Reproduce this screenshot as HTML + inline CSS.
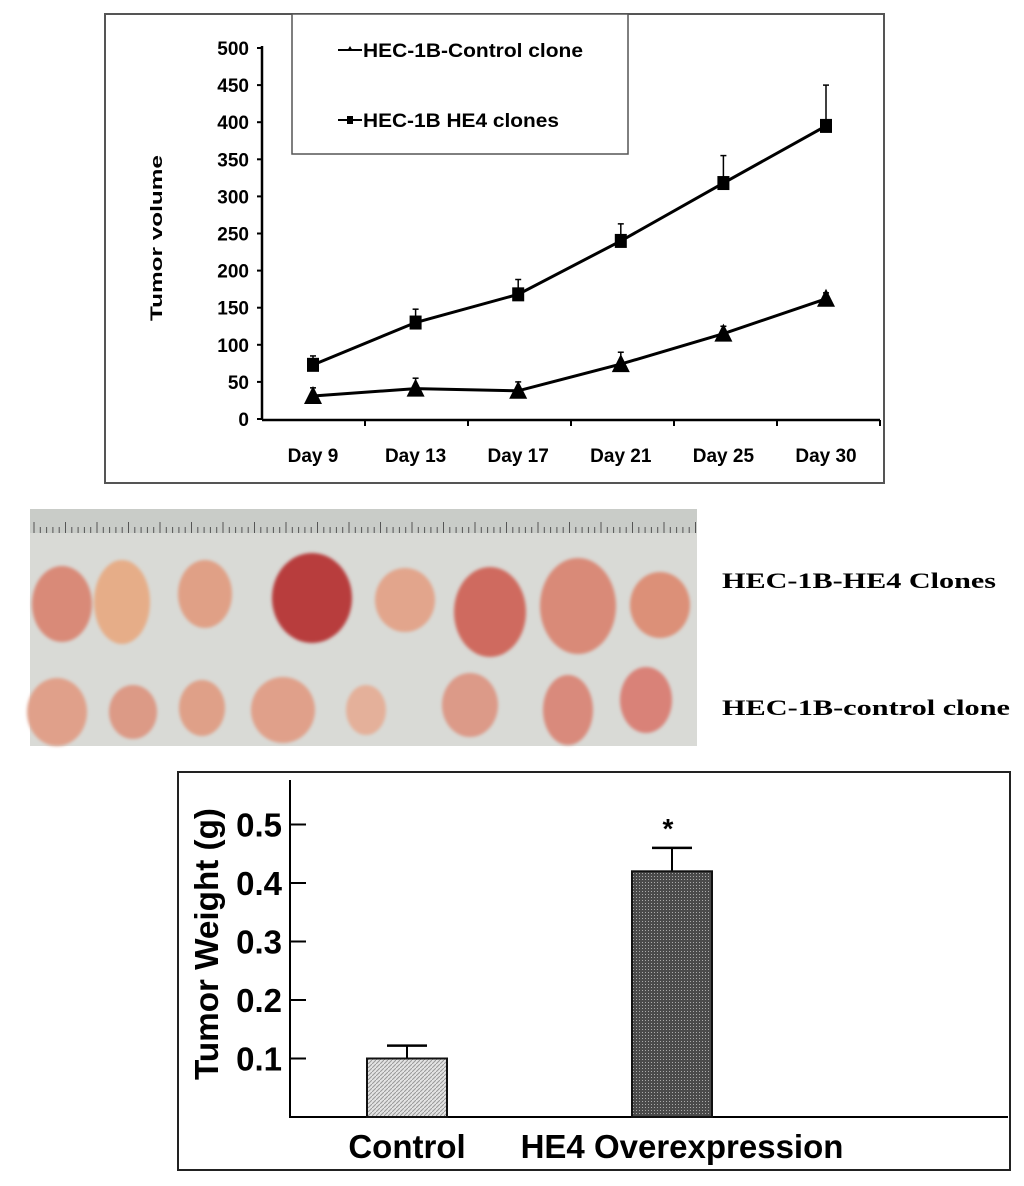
<!DOCTYPE html>
<html><head><meta charset="utf-8"><style>
body{margin:0;background:#fff;width:1024px;height:1186px;overflow:hidden;position:relative;font-family:"Liberation Sans",sans-serif}
svg{position:absolute;left:0;top:0}
</style></head><body>
<svg width="1024" height="1186">
<defs>
<pattern id="hatchL" width="4" height="4" patternUnits="userSpaceOnUse"><rect width="4" height="4" fill="#e4e4e4"/><path d="M0,4 L4,0" stroke="#999" stroke-width="1"/></pattern>
<pattern id="hatchD" width="3" height="3" patternUnits="userSpaceOnUse"><rect width="3" height="3" fill="#4a4a4a"/><rect width="1" height="1" fill="#aaa"/></pattern>
<filter id="blur"><feGaussianBlur stdDeviation="1.5"/></filter>
</defs>
<g id="top">
<rect x="105" y="14" width="779" height="469" fill="#fff" stroke="#555" stroke-width="2"/>
<rect x="292" y="14" width="336" height="140" fill="#fff" stroke="#555" stroke-width="1.5"/>
<g><line x1="338" y1="50" x2="362" y2="50" stroke="#000" stroke-width="2"/><polygon points="350,46 347,51 353,51" fill="#000"/><text x="363" y="57" font-size="19" font-weight="bold" textLength="220" lengthAdjust="spacingAndGlyphs">HEC-1B-Control clone</text></g>
<g><line x1="338" y1="120" x2="362" y2="120" stroke="#000" stroke-width="2"/><rect x="347" y="116" width="6" height="8"/><text x="363" y="127" font-size="19" font-weight="bold" textLength="196" lengthAdjust="spacingAndGlyphs">HEC-1B HE4 clones</text></g>
<text transform="translate(162,238) rotate(-90)" text-anchor="middle" font-size="17" font-weight="bold" textLength="166" lengthAdjust="spacingAndGlyphs">Tumor volume</text>
<g id="topAxes"></g><g id="topMarks"></g>
</g>
<g>
<rect x="30" y="509" width="667" height="237" fill="#d9dad6"/>
<rect x="30" y="509" width="667" height="24" fill="#c9ccc8"/>
<g id="ruler" stroke="#555" stroke-width="1"></g>
<g filter="url(#blur)">
<ellipse cx="62" cy="604" rx="30" ry="38" fill="#d98a78"/><ellipse cx="122" cy="602" rx="28" ry="42" fill="#e6ad88"/><ellipse cx="205" cy="594" rx="27" ry="34" fill="#e0a086"/>
<ellipse cx="312" cy="598" rx="40" ry="45" fill="#b83c3c"/><ellipse cx="405" cy="600" rx="30" ry="32" fill="#e2a58c"/><ellipse cx="490" cy="612" rx="36" ry="45" fill="#cf6a5e"/>
<ellipse cx="578" cy="606" rx="38" ry="48" fill="#d98a78"/><ellipse cx="660" cy="605" rx="30" ry="33" fill="#dc9078"/>
<ellipse cx="57" cy="712" rx="30" ry="34" fill="#e0a08a"/><ellipse cx="133" cy="712" rx="24" ry="27" fill="#dc9a86"/><ellipse cx="202" cy="708" rx="23" ry="28" fill="#dfa088"/>
<ellipse cx="283" cy="710" rx="32" ry="33" fill="#e0a08a"/><ellipse cx="366" cy="710" rx="20" ry="25" fill="#e4b09a"/><ellipse cx="470" cy="705" rx="28" ry="32" fill="#dc9a88"/>
<ellipse cx="568" cy="710" rx="25" ry="35" fill="#d98a7c"/><ellipse cx="646" cy="700" rx="26" ry="33" fill="#d98278"/>
</g></g>
<text x="722" y="588" font-family="Liberation Serif,serif" font-size="22" font-weight="bold" textLength="274" lengthAdjust="spacingAndGlyphs">HEC-1B-HE4 Clones</text>
<text x="722" y="715" font-family="Liberation Serif,serif" font-size="22" font-weight="bold" textLength="288" lengthAdjust="spacingAndGlyphs">HEC-1B-control clone</text>
<g>
<rect x="178" y="772" width="832" height="398" fill="#fff" stroke="#222" stroke-width="2"/>
<text transform="translate(218,944) rotate(-90)" text-anchor="middle" font-size="33" font-weight="bold" textLength="272" lengthAdjust="spacingAndGlyphs">Tumor Weight (g)</text>
<g id="botAxes"></g><g id="botMarks"></g>
</g>
</svg>
<script>
const days=["Day 9","Day 13","Day 17","Day 21","Day 25","Day 30"];
const he4Vol=[73,130,168,240,318,395];
const he4Err=[12,18,20,23,37,55];
const ctrlVol=[31,41,38,74,115,162];
const ctrlErr=[11,14,12,16,10,8];
const volTicks=[0,50,100,150,200,250,300,350,400,450,500];
const groups=["Control","HE4 Overexpression"];
const weights=[0.1,0.42];
const weightErr=[0.022,0.04];
const wTicks=[0.1,0.2,0.3,0.4,0.5];
const NS="http://www.w3.org/2000/svg";
function mk(p,t,a,txt){const e=document.createElementNS(NS,t);for(const k in a)e.setAttribute(k,a[k]);if(txt!==undefined)e.textContent=txt;p.appendChild(e);return e;}
const ty=v=>419-v*(371/500), tx=i=>313+i*102.6;
const ta=document.getElementById('topAxes'), tm=document.getElementById('topMarks');
let e=mk(ta,'line',{x1:262,y1:46,x2:262,y2:420,stroke:'#000','stroke-width':2.5});


e=mk(ta,'line',{x1:262,y1:420,x2:880,y2:420,stroke:'#000','stroke-width':2.5});


volTicks.forEach(v=>{mk(ta,'line',{x1:257,y1:ty(v),x2:262,y2:ty(v),stroke:'#000','stroke-width':2});
e=mk(ta,'text',{x:249,y:ty(v)+7,'text-anchor':'end','font-size':19,'font-weight':'bold'},v);

});
days.forEach((d,i)=>{const bx=262+(i+1)*103;mk(ta,'line',{x1:bx,y1:420,x2:bx,y2:426,stroke:'#000','stroke-width':2});
e=mk(ta,'text',{x:tx(i),y:462,'text-anchor':'middle','font-size':19,'font-weight':'bold'},d);

});
function series(vals,errs,shape,name){
 const pts=vals.map((v,i)=>tx(i)+','+ty(v)).join(' ');
 e=mk(tm,'polyline',{points:pts,fill:'none',stroke:'#000','stroke-width':3});
 
 
 vals.forEach((v,i)=>{const x=tx(i),y=ty(v),ye=ty(v+errs[i]);
  mk(tm,'line',{x1:x,y1:y,x2:x,y2:ye,stroke:'#000','stroke-width':1.5});
  mk(tm,'line',{x1:x-3,y1:ye,x2:x+3,y2:ye,stroke:'#000','stroke-width':1.5});
  if(shape==='sq'){e=mk(tm,'rect',{x:x-6,y:y-7,width:12,height:14,fill:'#000'});}
  else{e=mk(tm,'polygon',{points:`${x},${y-10} ${x-9},${y+8} ${x+9},${y+8}`,fill:'#000'});}
  
  });
}
series(he4Vol,he4Err,'sq','he4');
series(ctrlVol,ctrlErr,'tri','control');
const r=document.getElementById('ruler');
for(let x=34;x<697;x+=6.3){mk(r,'line',{x1:x,y1:533,x2:x,y2:(Math.round((x-34)/6.3)%5==0)?522:527});}
const by=v=>1117-v*585, bx=i=>[407,672][i];
const ba=document.getElementById('botAxes'), bm=document.getElementById('botMarks');
e=mk(ba,'line',{x1:290,y1:780,x2:290,y2:1118,stroke:'#000','stroke-width':2});


e=mk(ba,'line',{x1:290,y1:1117,x2:1008,y2:1117,stroke:'#000','stroke-width':2});


wTicks.forEach(v=>{mk(ba,'line',{x1:290,y1:by(v),x2:306,y2:by(v),stroke:'#000','stroke-width':2});
e=mk(ba,'text',{x:282,y:by(v)+12,'text-anchor':'end','font-size':33,'font-weight':'bold'},v.toFixed(1));

});
groups.forEach((g,i)=>{const x=bx(i),y=by(weights[i]),ye=by(weights[i]+weightErr[i]);
 mk(bm,'line',{x1:x,y1:y,x2:x,y2:ye,stroke:'#000','stroke-width':2});
 mk(bm,'line',{x1:x-20,y1:ye,x2:x+20,y2:ye,stroke:'#000','stroke-width':2.5});
 e=mk(bm,'rect',{x:x-40,y:y,width:80,height:1117-y,fill:i?'url(#hatchD)':'url(#hatchL)',stroke:'#111','stroke-width':2});
 
 
 e=mk(bm,'text',{x:i?x+10:x,y:1158,'text-anchor':'middle','font-size':33,'font-weight':'bold'},g);
 
 });
e=mk(bm,'text',{x:bx(1)-4,y:838,'text-anchor':'middle','font-size':28,'font-weight':'bold'},'*');


</script>
</body></html>
